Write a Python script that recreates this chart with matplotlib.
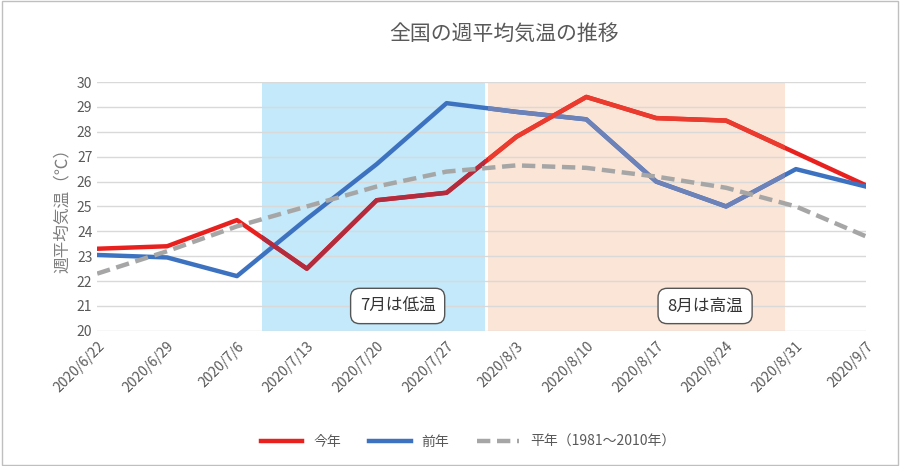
import matplotlib.pyplot as plt
from matplotlib.patches import Rectangle

plt.rcParams["font.family"] = "Noto Sans CJK JP"

dates = ["2020/6/22", "2020/6/29", "2020/7/6", "2020/7/13", "2020/7/20", "2020/7/27",
         "2020/8/3", "2020/8/10", "2020/8/17", "2020/8/24", "2020/8/31", "2020/9/7"]
this_year = [23.3, 23.4, 24.45, 22.5, 25.25, 25.55, 27.8, 29.4, 28.55, 28.45, 27.15, 25.85]
last_year = [23.05, 22.95, 22.2, 24.5, 26.7, 29.15, 28.8, 28.5, 26.0, 25.0, 26.5, 25.8]
normal = [22.3, 23.2, 24.2, 25.0, 25.8, 26.4, 26.65, 26.55, 26.2, 25.75, 25.0, 23.8]

fig = plt.figure(figsize=(9, 4.66), dpi=100)
ax = fig.add_axes([0.108, 0.29, 0.854, 0.534])
x = list(range(len(dates)))

blue_span = (2.36, 5.55)
orange_span = (5.6, 9.84)
ax.axvspan(*blue_span, color="#c3e9fa", lw=0, zorder=1)
ax.axvspan(*orange_span, color="#fbe5d6", lw=0, zorder=1)

ax.plot(x, this_year, color="#e8211f", lw=3.2, label="今年", zorder=2)
ax.plot(x, last_year, color="#3d72c0", lw=3.2, label="前年", zorder=2)
ax.plot(x, normal, color="#a6a6a6", lw=3.2, ls=(0, (3, 1.5)), label="平年（1981～2010年）", zorder=4)

# tinted segments where the shaded bands cover the lines
for span, ys, col in [(blue_span, this_year, "#b32b3c"), (orange_span, last_year, "#6c82b8"),
                      (orange_span, this_year, "#ea3b2e")]:
    ln, = ax.plot(x, ys, color=col, lw=3.2, zorder=3)
    clip = Rectangle((span[0], 19), span[1] - span[0], 12, transform=ax.transData)
    ln.set_clip_path(clip)

for cx, txt in [(4.3, "7月は低温"), (8.7, "8月は高温")]:
    ax.text(cx, 21.0, txt, ha="center", va="center", fontsize=12, color="#333333", zorder=5,
            bbox=dict(boxstyle="round,pad=0.55", fc="white", ec="#555555", lw=1))

ax.set_xlim(0, 11)
ax.set_ylim(20, 30)
ax.set_yticks(range(20, 31))
ax.set_xticks(x)
ax.set_xticklabels(dates, rotation=45, ha="right", rotation_mode="anchor", fontsize=10, color="#595959")
ax.tick_params(axis="y", labelsize=10, colors="#595959", length=0)
ax.tick_params(axis="x", length=0, pad=6)
ax.grid(axis="y", color="#d9d9d9", lw=1, zorder=0)
for s in ax.spines.values():
    s.set_visible(False)
ax.set_ylabel("週平均気温（℃）", fontsize=12, color="#7f7f7f")

fig.text(0.56, 0.915, "全国の週平均気温の推移", ha="center", fontsize=15, color="#595959")
fig.legend(ax.get_lines()[:3], ["今年", "前年", "平年（1981～2010年）"], loc="lower center",
           bbox_to_anchor=(0.52, 0.01), ncol=3, frameon=False,
           fontsize=10, labelcolor="#595959", handlelength=3)
fig.add_artist(Rectangle((0.002, 0.003), 0.996, 0.994, transform=fig.transFigure,
                         fill=False, ec="#bfbfbf", lw=1))

fig.savefig("out.png", dpi=100)
